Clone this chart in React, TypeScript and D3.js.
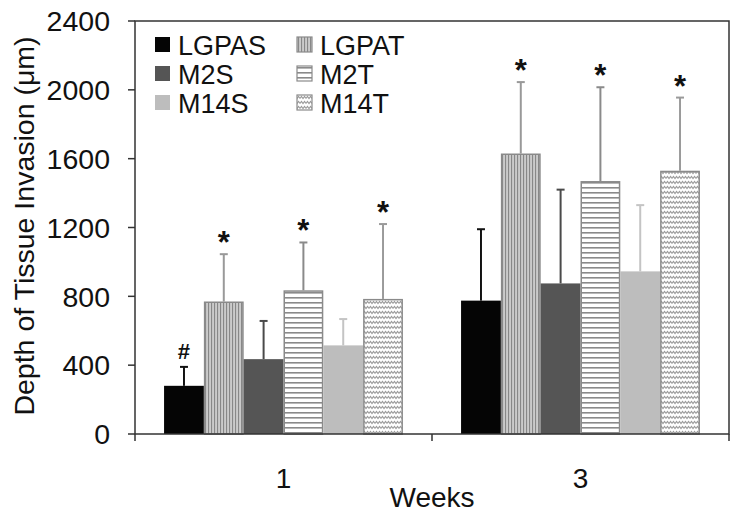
import React from "react";
import * as d3 from "d3";

const weeks = ["1", "3"];
const series = ["LGPAS", "LGPAT", "M2S", "M2T", "M14S", "M14T"];
const meansWeek1 = [280, 770, 435, 835, 515, 785];
const meansWeek3 = [775, 1630, 875, 1470, 945, 1530];
const errWeek1 = [110, 275, 222, 278, 153, 435];
const errWeek3 = [415, 415, 545, 545, 385, 425];
const sigWeek1 = ["#", "*", "", "*", "", "*"];
const sigWeek3 = ["", "*", "", "*", "", "*"];
const yTicks = [0, 400, 800, 1200, 1600, 2000, 2400];

const W = 744;
const H = 517;
const M = { left: 135, right: 729, top: 21, bottom: 434 };
const FONT = "'Liberation Sans', Arial, sans-serif";

const fills: Record<string, string> = {
  LGPAS: "#050505",
  LGPAT: "url(#patV)",
  M2S: "#555555",
  M2T: "url(#patH)",
  M14S: "#bdbdbd",
  M14T: "url(#patZ)",
};
const strokes: Record<string, string> = {
  LGPAS: "none",
  LGPAT: "#8a8a8a",
  M2S: "none",
  M2T: "#8a8a8a",
  M14S: "none",
  M14T: "#8a8a8a",
};
const errColors: Record<string, string> = {
  LGPAS: "#111111",
  LGPAT: "#999999",
  M2S: "#4a4a4a",
  M2T: "#8a8a8a",
  M14S: "#c4c4c4",
  M14T: "#9a9a9a",
};

export default function App() {
  const x0 = d3.scaleBand().domain(weeks).range([M.left, M.right]).paddingInner(0).paddingOuter(0);
  const x1 = d3.scaleBand().domain(series).range([0, x0.bandwidth()]).paddingInner(0).paddingOuter(0.73);
  const y = d3.scaleLinear().domain([0, 2400]).range([M.bottom, M.top]);

  const rows = weeks.map((w, wi) => ({
    week: w,
    means: wi === 0 ? meansWeek1 : meansWeek3,
    errs: wi === 0 ? errWeek1 : errWeek3,
    sigs: wi === 0 ? sigWeek1 : sigWeek3,
  }));

  const legendCols = [155, 297];
  const legendRows = [55, 84, 113];

  return (
    <svg width={W} height={H} style={{ position: "absolute", left: 0, top: 0, background: "#fff" }} fontFamily={FONT}>
      <defs>
        <pattern id="patV" width="3" height="4" patternUnits="userSpaceOnUse">
          <rect width="3" height="4" fill="#cbcbcb" />
          <rect x="1" width="1.1" height="4" fill="#888888" />
        </pattern>
        <pattern id="patH" width="4" height="5" patternUnits="userSpaceOnUse">
          <rect width="4" height="5" fill="#ffffff" />
          <rect y="2" width="4" height="1.6" fill="#8a8a8a" />
        </pattern>
        <pattern id="patZ" width="6" height="5" patternUnits="userSpaceOnUse">
          <rect width="6" height="5" fill="#ffffff" />
          <path d="M0,3.5 L1.5,1.5 L3,3.5 L4.5,1.5 L6,3.5" fill="none" stroke="#9a9a9a" strokeWidth="1.1" />
        </pattern>
      </defs>

      {/* bars */}
      {rows.map((r) => (
        <g key={r.week} transform={`translate(${x0(r.week)},0)`}>
          {series.map((s, i) => {
            const bx = x1(s)!;
            const bw = x1.bandwidth();
            const top = y(r.means[i]);
            const errTop = y(r.means[i] + r.errs[i]);
            const cx = bx + bw / 2;
            const patterned = strokes[s] !== "none";
            return (
              <g key={s}>
                <line x1={cx} x2={cx} y1={top} y2={errTop} stroke={errColors[s]} strokeWidth={2} />
                <line x1={cx - 4} x2={cx + 4} y1={errTop} y2={errTop} stroke={errColors[s]} strokeWidth={2} />
                <rect
                  x={patterned ? bx + 0.75 : bx}
                  y={patterned ? top + 0.75 : top}
                  width={patterned ? bw - 1.5 : bw}
                  height={patterned ? y(0) - top - 0.75 : y(0) - top}
                  fill={fills[s]}
                  stroke={strokes[s]}
                  strokeWidth={1.5}
                />
                {r.sigs[i] === "*" && (
                  <text x={cx} y={errTop - 1} textAnchor="middle" fontSize={31} fontWeight="bold" fill="#111">
                    *
                  </text>
                )}
                {r.sigs[i] === "#" && (
                  <text x={cx} y={errTop - 8} textAnchor="middle" fontSize={22} fontWeight="bold" fill="#111">
                    #
                  </text>
                )}
              </g>
            );
          })}
        </g>
      ))}

      {/* frame */}
      <rect x={M.left} y={M.top} width={M.right - M.left} height={M.bottom - M.top} fill="none" stroke="#333" strokeWidth={1.5} />

      {/* y axis ticks */}
      {yTicks.map((t) => (
        <g key={t}>
          <line x1={M.left - 7} x2={M.left} y1={y(t)} y2={y(t)} stroke="#333" strokeWidth={1.5} />
          <text x={M.left - 25} y={y(t)} dy="0.36em" textAnchor="end" fontSize={28.5} fill="#111">
            {t}
          </text>
        </g>
      ))}

      {/* x axis ticks */}
      {[M.left, ...weeks.map((w) => x0(w)! + x0.bandwidth())].map((xv, i) => (
        <line key={i} x1={xv} x2={xv} y1={M.bottom} y2={M.bottom + 7} stroke="#333" strokeWidth={1.5} />
      ))}
      {weeks.map((w) => (
        <text key={w} x={x0(w)! + x0.bandwidth() / 2} y={488} textAnchor="middle" fontSize={28} fill="#111">
          {w}
        </text>
      ))}
      <text x={(M.left + M.right) / 2} y={507} textAnchor="middle" fontSize={28} fill="#111">
        Weeks
      </text>
      <text transform={`translate(34,226) rotate(-90)`} textAnchor="middle" fontSize={28.5} fill="#111">
        Depth of Tissue Invasion (μm)
      </text>

      {/* legend */}
      {series.map((s, i) => {
        const col = i % 2;
        const row = Math.floor(i / 2);
        const lx = legendCols[col];
        const ly = legendRows[row];
        const patterned = strokes[s] !== "none";
        return (
          <g key={s}>
            <rect
              x={lx}
              y={ly - 18}
              width={15}
              height={15}
              fill={fills[s]}
              stroke={patterned ? "#8a8a8a" : "none"}
              strokeWidth={1.2}
            />
            <text x={lx + 23} y={ly} fontSize={27} fill="#111">
              {s}
            </text>
          </g>
        );
      })}
    </svg>
  );
}
